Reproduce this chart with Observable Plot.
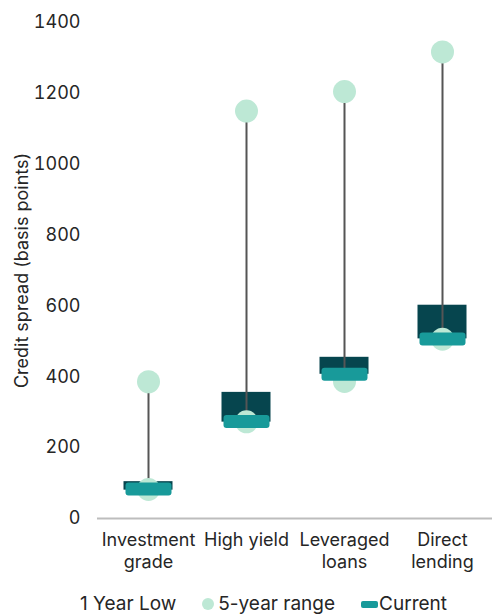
<!DOCTYPE html>
<html>
<head>
<meta charset="utf-8">
<script src="https://cdn.jsdelivr.net/npm/d3@7"></script>
<script src="https://cdn.jsdelivr.net/npm/@observablehq/plot@0.6"></script>
<style>
  html, body { margin: 0; padding: 0; background: #fff; }
  body { width: 494px; height: 614px; overflow: hidden; font-family: Inter, "Noto Sans", sans-serif; }
  #legend { display: flex; justify-content: center; align-items: center; height: 20px; padding-top: 14px; padding-left: 14px;
    font-size: 19px; color: #262626; line-height: 20px; }
  .item { display: flex; align-items: center; margin: 0 13px; }
  .sw { display: inline-block; margin-right: 3px; }
</style>
</head>
<body>
<div id="chart"></div>
<div id="legend"></div>
<script>
const categories = ["Investment grade", "High yield", "Leveraged loans", "Direct lending"];
const tickLabels = ["Investment\ngrade", "High yield", "Leveraged\nloans", "Direct\nlending"];
const fiveYearLow = [82, 273, 387, 506];
const fiveYearHigh = [386, 1150, 1205, 1317];
const oneYearLow = [80, 272, 407, 507];
const oneYearHigh = [104, 356, 455, 602];
const current = [83, 274, 407, 507];
const yTicks = [0, 200, 400, 600, 800, 1000, 1200, 1400];

const colDark = "#06454e";
const colMint = "#bde8d5";
const colCurrent = "#189a9a";
const colLine = "#555555";

const data = categories.map((c, i) => ({
  cat: c, lo5: fiveYearLow[i], hi5: fiveYearHigh[i],
  lo1: oneYearLow[i], hi1: oneYearHigh[i], cur: current[i]
}));

// rounded-rectangle symbol for the "Current" marker
const currentSymbol = {
  draw(ctx) {
    const w = 46, h = 13, r = 3, x = -w / 2, y = -h / 2;
    ctx.moveTo(x + r, y);
    ctx.lineTo(x + w - r, y);
    ctx.arcTo(x + w, y, x + w, y + r, r);
    ctx.lineTo(x + w, y + h - r);
    ctx.arcTo(x + w, y + h, x + w - r, y + h, r);
    ctx.lineTo(x + r, y + h);
    ctx.arcTo(x, y + h, x, y + h - r, r);
    ctx.lineTo(x, y + r);
    ctx.arcTo(x, y, x + r, y, r);
    ctx.closePath();
  }
};

const plot = Plot.plot({
  width: 494,
  height: 580,
  marginTop: 22,
  marginBottom: 62,
  marginLeft: 97,
  marginRight: 2,
  style: { fontFamily: "Inter, 'Noto Sans', sans-serif", fontSize: "18px", color: "#262626", background: "#fff" },
  x: { domain: categories, padding: 0 },
  y: { domain: [0, 1400] },
  marks: [
    Plot.axisY({ ticks: yTicks, tickFormat: "d", tickSize: 0, tickPadding: 17, fontSize: 18, fill: "#262626",
      label: "Credit spread (basis points)", labelAnchor: "center", labelOffset: 82, labelArrow: "none" }),
    Plot.axisX({ tickSize: 0, tickPadding: 13, fontSize: 18, fill: "#262626", lineHeight: 1.17,
      tickFormat: (d) => tickLabels[categories.indexOf(d)], label: null }),
    Plot.ruleY([0], { stroke: "#bdbdbd", strokeWidth: 2 }),
    Plot.barY(data, { x: "cat", y1: "lo1", y2: "hi1", fill: colDark, insetLeft: 24.5, insetRight: 24.5 }),
    Plot.ruleX(data, { x: "cat", y1: "lo5", y2: "hi5", stroke: colLine, strokeWidth: 2 }),
    Plot.dot(data, { x: "cat", y: "hi5", r: 11.5, fill: colMint }),
    Plot.dot(data, { x: "cat", y: "lo5", r: 11.5, fill: colMint }),
    Plot.dot(data, { x: "cat", y: "cur", symbol: currentSymbol, r: 5, fill: colCurrent })
  ]
});
document.getElementById("chart").appendChild(plot);

const legendItems = [
  { label: "1 Year Low", sw: '<span class="sw" style="width:16px;height:16px;background:#fff"></span>' },
  { label: "5-year range", sw: `<span class="sw" style="width:12px;height:12px;border-radius:50%;background:${colMint};margin-right:4px"></span>` },
  { label: "Current", sw: `<span class="sw" style="width:17px;height:7px;border-radius:2px;background:${colCurrent};margin-right:1px"></span>` }
];
document.getElementById("legend").innerHTML = legendItems
  .map(d => `<span class="item">${d.sw}<span>${d.label}</span></span>`).join("");
</script>
</body>
</html>
